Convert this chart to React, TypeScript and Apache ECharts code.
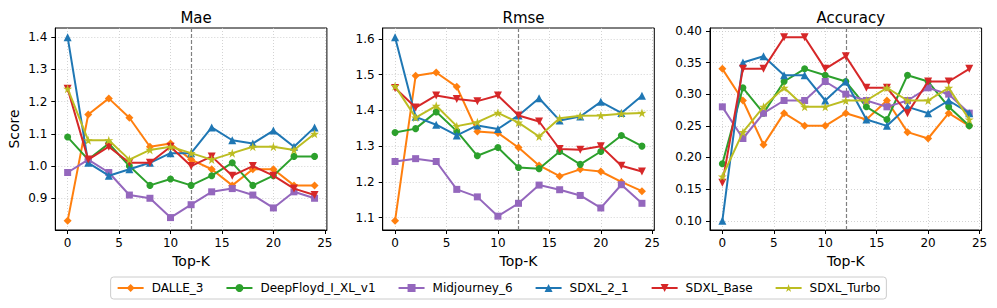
import React, { useEffect, useRef } from 'react';
import * as echarts from 'echarts';

const topK = [0, 2, 4, 6, 8, 10, 12, 14, 16, 18, 20, 22, 24];
const modelNames = ['DALLE_3', 'DeepFloyd_I_XL_v1', 'Midjourney_6', 'SDXL_2_1', 'SDXL_Base', 'SDXL_Turbo'];
const metricTitles = ['Mae', 'Rmse', 'Accuracy'];
const xTicks = [0, 5, 10, 15, 20, 25];
const maeTicks = [0.9, 1.0, 1.1, 1.2, 1.3, 1.4];
const rmseTicks = [1.1, 1.2, 1.3, 1.4, 1.5, 1.6];
const accTicks = [0.1, 0.15, 0.2, 0.25, 0.3, 0.35, 0.4];
const cutoffK = 12;

// Mae
const maeDalle = [0.83, 1.16, 1.21, 1.15, 1.06, 1.07, 1.02, 0.99, 0.94, 0.99, 0.99, 0.94, 0.94];
const maeDeepFloyd = [1.09, 1.02, 1.07, 1.0, 0.94, 0.96, 0.94, 0.97, 1.01, 0.94, 0.97, 1.03, 1.03];
const maeMidjourney = [0.98, 1.02, 0.98, 0.91, 0.9, 0.84, 0.88, 0.92, 0.93, 0.91, 0.87, 0.92, 0.9];
const maeSdxl21 = [1.4, 1.01, 0.97, 0.99, 1.01, 1.04, 1.04, 1.12, 1.08, 1.07, 1.11, 1.06, 1.12];
const maeSdxlBase = [1.24, 1.02, 1.06, 1.01, 1.01, 1.06, 1.0, 1.03, 0.97, 1.0, 0.97, 0.93, 0.91];
const maeSdxlTurbo = [1.24, 1.08, 1.08, 1.02, 1.05, 1.06, 1.04, 1.02, 1.04, 1.06, 1.06, 1.05, 1.1];

// Rmse
const rmseDalle = [1.091, 1.497, 1.506, 1.466, 1.341, 1.337, 1.296, 1.246, 1.216, 1.235, 1.229, 1.2, 1.174];
const rmseDeepFloyd = [1.338, 1.349, 1.396, 1.342, 1.273, 1.296, 1.24, 1.237, 1.285, 1.249, 1.285, 1.33, 1.3];
const rmseMidjourney = [1.257, 1.265, 1.257, 1.179, 1.158, 1.104, 1.14, 1.191, 1.178, 1.162, 1.127, 1.192, 1.14];
const rmseSdxl21 = [1.605, 1.382, 1.36, 1.33, 1.358, 1.348, 1.386, 1.434, 1.372, 1.383, 1.424, 1.393, 1.441];
const rmseSdxlBase = [1.463, 1.408, 1.442, 1.432, 1.426, 1.442, 1.386, 1.369, 1.292, 1.29, 1.3, 1.245, 1.229];
const rmseSdxlTurbo = [1.468, 1.38, 1.413, 1.356, 1.367, 1.393, 1.366, 1.327, 1.378, 1.385, 1.386, 1.391, 1.393];

// Accuracy
const accDalle = [0.34, 0.29, 0.22, 0.27, 0.25, 0.25, 0.27, 0.26, 0.29, 0.24, 0.23, 0.27, 0.25];
const accDeepFloyd = [0.19, 0.31, 0.27, 0.32, 0.34, 0.33, 0.32, 0.28, 0.26, 0.33, 0.32, 0.28, 0.25];
const accMidjourney = [0.28, 0.23, 0.27, 0.29, 0.29, 0.32, 0.3, 0.29, 0.28, 0.29, 0.31, 0.3, 0.27];
const accSdxl21 = [0.1, 0.35, 0.36, 0.33, 0.33, 0.29, 0.32, 0.26, 0.25, 0.28, 0.27, 0.29, 0.27];
const accSdxlBase = [0.16, 0.34, 0.34, 0.39, 0.39, 0.34, 0.36, 0.31, 0.31, 0.27, 0.32, 0.32, 0.34];
const accSdxlTurbo = [0.17, 0.24, 0.28, 0.31, 0.28, 0.28, 0.29, 0.29, 0.31, 0.29, 0.29, 0.31, 0.26];

const FONT = 'DejaVu Sans';
const COLORS = ['#ff7f0e', '#2ca02c', '#9467bd', '#1f77b4', '#d62728', '#bcbd22'];
const STAR = 'path://M50,0 L61.8,36.2 L100,36.2 L69.1,58.8 L80.9,95.1 L50,72.7 L19.1,95.1 L30.9,58.8 L0,36.2 L38.2,36.2 Z';
const SYMBOLS: any[] = [
  { symbol: 'diamond', symbolSize: 8, symbolRotate: 0 },
  { symbol: 'circle', symbolSize: 7, symbolRotate: 0 },
  { symbol: 'rect', symbolSize: 7, symbolRotate: 0 },
  { symbol: 'triangle', symbolSize: 8, symbolRotate: 0 },
  { symbol: 'triangle', symbolSize: 8, symbolRotate: 180 },
  { symbol: STAR, symbolSize: 9, symbolRotate: 0 },
];

const GRID_LEFTS = [55.3, 382.7, 710];
const GRID_W = 271.6;
const GRID_TOP = 28;
const GRID_H = 202;

function App() {
  const ref = useRef<HTMLDivElement>(null);
  useEffect(() => {
    if (!ref.current) return;
    const chart = echarts.init(ref.current, undefined, { renderer: 'svg' });
    const metrics = [
      { data: [maeDalle, maeDeepFloyd, maeMidjourney, maeSdxl21, maeSdxlBase, maeSdxlTurbo], ticks: maeTicks, dec: 1 },
      { data: [rmseDalle, rmseDeepFloyd, rmseMidjourney, rmseSdxl21, rmseSdxlBase, rmseSdxlTurbo], ticks: rmseTicks, dec: 1 },
      { data: [accDalle, accDeepFloyd, accMidjourney, accSdxl21, accSdxlBase, accSdxlTurbo], ticks: accTicks, dec: 2 },
    ];
    const xMin = Math.min(...topK);
    const xMax = Math.max(...topK);
    const xPad = (xMax - xMin) * 0.05;

    const grids: any[] = [];
    const xAxes: any[] = [];
    const yAxes: any[] = [];
    const series: any[] = [];
    const titles: any[] = [];

    metrics.forEach((m, gi) => {
      const all = m.data.flat();
      const lo = Math.min(...all);
      const hi = Math.max(...all);
      const pad = (hi - lo) * 0.05;
      grids.push({
        left: GRID_LEFTS[gi], top: GRID_TOP, width: GRID_W, height: GRID_H,
        show: true, borderColor: '#000', borderWidth: 1, backgroundColor: 'transparent',
      });
      titles.push({
        text: metricTitles[gi],
        left: GRID_LEFTS[gi] + GRID_W / 2,
        top: 5,
        textAlign: 'center',
        textStyle: { fontFamily: FONT, fontSize: 15, fontWeight: 'normal', color: '#000' },
      });
      xAxes.push({
        type: 'value', gridIndex: gi, min: xMin - xPad, max: xMax + xPad,
        name: 'Top-K', nameLocation: 'middle', nameGap: 24,
        nameTextStyle: { fontFamily: FONT, fontSize: 14, color: '#000' },
        axisLine: { show: true, onZero: false, lineStyle: { color: '#000', width: 1 } },
        axisTick: { show: true, length: 4, customValues: xTicks, lineStyle: { color: '#000' } },
        axisLabel: { customValues: xTicks, margin: 7, fontFamily: FONT, fontSize: 12, color: '#000', formatter: (v: number) => String(Math.round(v)) },
        splitLine: { show: true, lineStyle: { color: '#c8c8c8', type: [1, 2], width: 0.8 } },
      });
      yAxes.push({
        type: 'value', gridIndex: gi, min: lo - pad, max: hi + pad,
        name: gi === 0 ? 'Score' : '', nameLocation: 'middle', nameGap: 34,
        nameTextStyle: { fontFamily: FONT, fontSize: 14, color: '#000' },
        axisLine: { show: true, onZero: false, lineStyle: { color: '#000', width: 1 } },
        axisTick: { show: true, length: 4, customValues: m.ticks, lineStyle: { color: '#000' } },
        axisLabel: { customValues: m.ticks, margin: 8, fontFamily: FONT, fontSize: 12, color: '#000', formatter: (v: number) => v.toFixed(m.dec) },
        splitLine: { show: true, lineStyle: { color: '#c8c8c8', type: [1, 2], width: 0.8 } },
      });
      m.data.forEach((vals, si) => {
        const s: any = {
          type: 'line', name: modelNames[si], xAxisIndex: gi, yAxisIndex: gi,
          data: topK.map((k, i) => [k, vals[i]]),
          color: COLORS[si],
          lineStyle: { width: 2, color: COLORS[si] },
          itemStyle: { color: COLORS[si] },
          symbol: SYMBOLS[si].symbol, symbolSize: SYMBOLS[si].symbolSize, symbolRotate: SYMBOLS[si].symbolRotate,
          showAllSymbol: true, z: 3 + si,
        };
        if (si === 0) {
          s.markLine = {
            silent: true, symbol: ['none', 'none'], label: { show: false },
            lineStyle: { color: '#808080', type: [4, 2], width: 1.2 },
            data: [{ xAxis: cutoffK }],
            z: 1,
          };
        }
        series.push(s);
      });
    });

    chart.setOption({
      animation: false,
      backgroundColor: '#fff',
      textStyle: { fontFamily: FONT },
      title: titles,
      grid: grids,
      xAxis: xAxes,
      yAxis: yAxes,
      legend: {
        data: modelNames,
        left: 'center', top: 277,
        itemWidth: 26, itemHeight: 10, itemGap: 22,
        padding: [5, 6],
        borderColor: '#cccccc', borderWidth: 1, borderRadius: 3,
        backgroundColor: '#fff',
        textStyle: { fontFamily: FONT, fontSize: 12, color: '#000', padding: [0, 0, 0, 3] },
      },
      series,
    });
    return () => chart.dispose();
  }, []);
  return <div ref={ref} style={{ position: 'fixed', left: 0, top: 0, width: 997, height: 308 }} />;
}

export default App;
